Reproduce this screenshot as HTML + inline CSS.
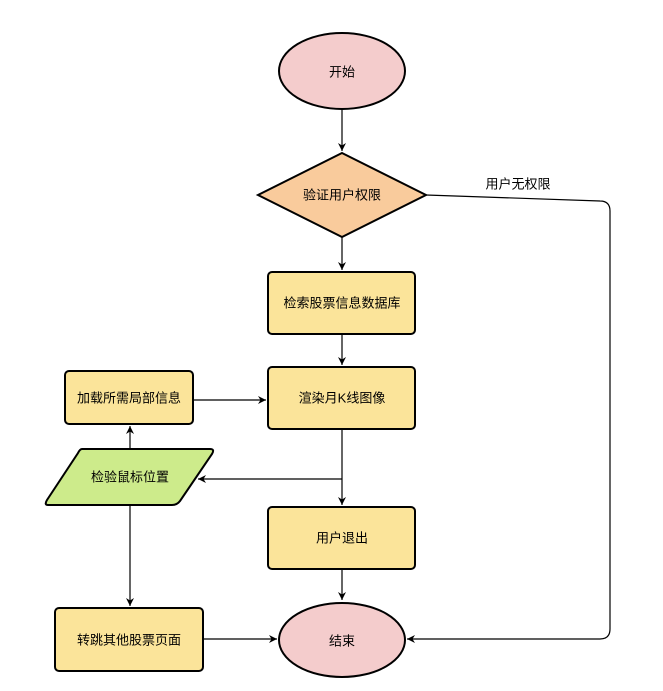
<!DOCTYPE html>
<html><head><meta charset="utf-8"><style>
html,body{margin:0;padding:0;background:#fff;width:663px;height:691px;overflow:hidden}
text{font-family:"Liberation Sans","Noto Sans CJK SC",sans-serif;font-size:13px;fill:#000;text-anchor:middle;dominant-baseline:central}
</style></head><body>
<svg width="663" height="691" viewBox="0 0 663 691" xmlns="http://www.w3.org/2000/svg">
<defs><marker id="a" markerWidth="10" markerHeight="10" refX="9" refY="5" orient="auto" markerUnits="userSpaceOnUse"><path d="M1,1 L9,5 L1,9 L3.5,5 Z" fill="#000"/></marker></defs>
<g stroke="#000" stroke-width="1.2" fill="none">
<line x1="342" y1="109" x2="342" y2="151" marker-end="url(#a)"/>
<line x1="342" y1="237" x2="342" y2="270" marker-end="url(#a)"/>
<line x1="342" y1="334" x2="342" y2="365" marker-end="url(#a)"/>
<line x1="342" y1="429" x2="342" y2="505" marker-end="url(#a)"/>
<line x1="342" y1="479" x2="198" y2="479" marker-end="url(#a)"/>
<line x1="342" y1="569" x2="342" y2="600" marker-end="url(#a)"/>
<line x1="193" y1="400" x2="266" y2="400" marker-end="url(#a)"/>
<line x1="130" y1="449" x2="130" y2="426" marker-end="url(#a)"/>
<line x1="130" y1="505" x2="130" y2="606" marker-end="url(#a)"/>
<line x1="203" y1="639" x2="277" y2="639" marker-end="url(#a)"/>
<path d="M426,195 L600,201 Q610,201 610,211 L610,629 Q610,639 600,639 L407,639" marker-end="url(#a)"/>
</g>
<g stroke="#000" stroke-width="2">
<ellipse cx="342" cy="71" rx="63" ry="38" fill="#f4cccc"/>
<polygon points="342,153 426,195 342,237 258,195" fill="#f9cb9c"/>
<rect x="268" y="272" width="147" height="62" rx="4" fill="#fbe49a"/>
<rect x="268" y="367" width="147" height="62" rx="4" fill="#fbe49a"/>
<rect x="65" y="371" width="128" height="53" rx="4" fill="#fbe49a"/>
<path d="M82,449 L210,449 Q215,449 212,454 L180,501 Q177,505 172,505 L48,505 Q44,505 47,500 L78,453 Q80,449 82,449 Z" fill="#cdeb8b"/>
<rect x="268" y="507" width="147" height="62" rx="4" fill="#fbe49a"/>
<rect x="55" y="608" width="148" height="63" rx="4" fill="#fbe49a"/>
<ellipse cx="342" cy="640" rx="63" ry="37" fill="#f4cccc"/>
</g>
<text x="342" y="72">开始</text>
<text x="342" y="195">验证用户权限</text>
<text x="342" y="303">检索股票信息数据库</text>
<text x="342" y="398">渲染月K线图像</text>
<text x="129" y="398">加载所需局部信息</text>
<text x="130" y="477">检验鼠标位置</text>
<text x="342" y="538">用户退出</text>
<text x="129" y="640">转跳其他股票页面</text>
<text x="342" y="641">结束</text>
<text x="518" y="184">用户无权限</text>
</svg>
</body></html>
